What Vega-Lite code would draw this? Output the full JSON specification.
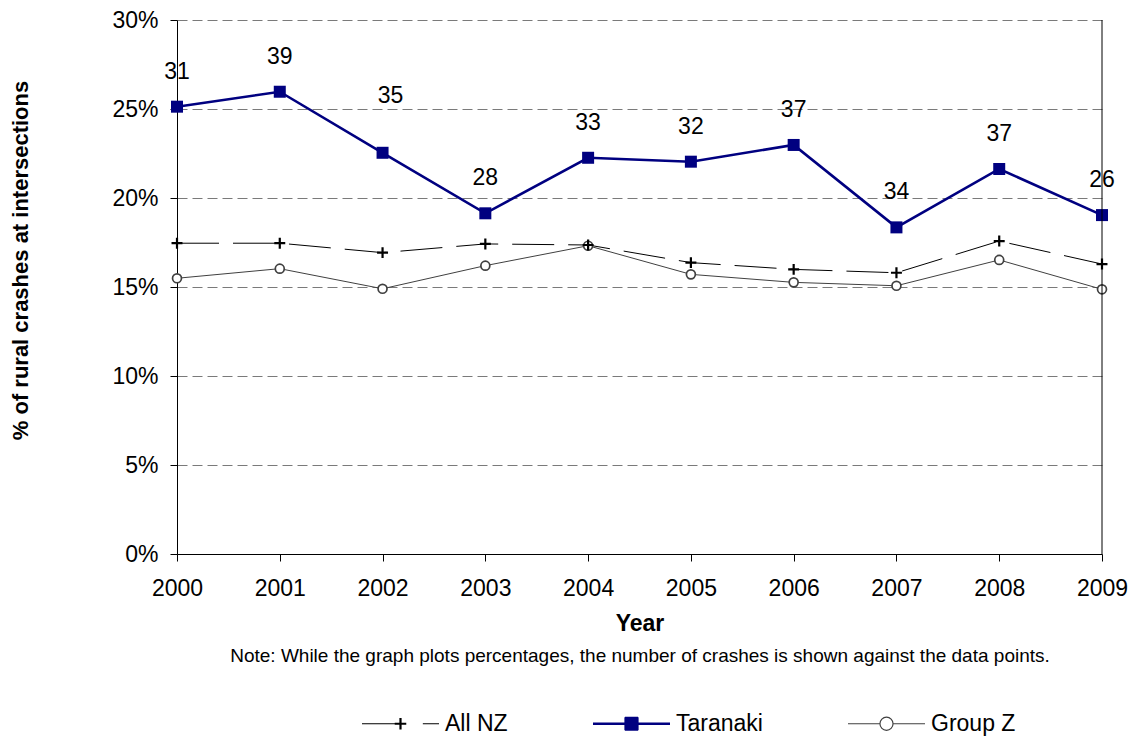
{
  "$schema": "https://vega.github.io/schema/vega-lite/v6.json",
  "width": 925,
  "height": 534,
  "autosize": {"type": "none"},
  "padding": {"left": 177, "top": 20, "right": 29, "bottom": 183},
  "background": "white",
  "config": {
    "font": "Liberation Sans",
    "view": {"stroke": null},
    "axis": {"labelFont": "Liberation Sans", "titleFont": "Liberation Sans"},
    "legend": {"labelFont": "Liberation Sans"}
  },
  "data": {
    "values": [
      {"year": 2000, "series": "All NZ", "pct": 17.46},
      {"year": 2001, "series": "All NZ", "pct": 17.46},
      {"year": 2002, "series": "All NZ", "pct": 16.93},
      {"year": 2003, "series": "All NZ", "pct": 17.42},
      {"year": 2004, "series": "All NZ", "pct": 17.36},
      {"year": 2005, "series": "All NZ", "pct": 16.37},
      {"year": 2006, "series": "All NZ", "pct": 15.99},
      {"year": 2007, "series": "All NZ", "pct": 15.80},
      {"year": 2008, "series": "All NZ", "pct": 17.58},
      {"year": 2009, "series": "All NZ", "pct": 16.29},
      {"year": 2000, "series": "Taranaki", "pct": 25.13, "count": 31},
      {"year": 2001, "series": "Taranaki", "pct": 25.97, "count": 39},
      {"year": 2002, "series": "Taranaki", "pct": 22.54, "count": 35},
      {"year": 2003, "series": "Taranaki", "pct": 19.14, "count": 28},
      {"year": 2004, "series": "Taranaki", "pct": 22.26, "count": 33},
      {"year": 2005, "series": "Taranaki", "pct": 22.04, "count": 32},
      {"year": 2006, "series": "Taranaki", "pct": 22.98, "count": 37},
      {"year": 2007, "series": "Taranaki", "pct": 18.35, "count": 34},
      {"year": 2008, "series": "Taranaki", "pct": 21.63, "count": 37},
      {"year": 2009, "series": "Taranaki", "pct": 19.04, "count": 26},
      {"year": 2000, "series": "Group Z", "pct": 15.49},
      {"year": 2001, "series": "Group Z", "pct": 16.03},
      {"year": 2002, "series": "Group Z", "pct": 14.90},
      {"year": 2003, "series": "Group Z", "pct": 16.20},
      {"year": 2004, "series": "Group Z", "pct": 17.32},
      {"year": 2005, "series": "Group Z", "pct": 15.71},
      {"year": 2006, "series": "Group Z", "pct": 15.26},
      {"year": 2007, "series": "Group Z", "pct": 15.07},
      {"year": 2008, "series": "Group Z", "pct": 16.52},
      {"year": 2009, "series": "Group Z", "pct": 14.87}
    ]
  },
  "resolve": {"axis": {"x": "independent"}},
  "layer": [
    {
      "transform": [{"filter": "datum.series === 'All NZ'"}],
      "mark": {"type": "line", "color": "#000000", "strokeWidth": 1, "strokeDash": [42, 14]},
      "encoding": {
        "x": {
          "field": "year", "type": "quantitative",
          "scale": {"domain": [2000, 2009], "nice": false, "zero": false},
          "axis": {
            "orient": "bottom", "title": "Year",
            "values": [2000, 2001, 2002, 2003, 2004, 2005, 2006, 2007, 2008, 2009],
            "format": "d", "grid": false,
            "domainColor": "black", "domainWidth": 1,
            "tickColor": "black", "tickSize": 7, "tickWidth": 1,
            "labelFontSize": 23, "labelColor": "black", "labelPadding": 16,
            "labelFlush": false, "labelOverlap": false,
            "titleFontSize": 23, "titleFontWeight": "bold", "titleColor": "black",
            "titleY": 58, "titleBaseline": "top"
          }
        },
        "y": {
          "field": "pct", "type": "quantitative",
          "scale": {"domain": [0, 30], "nice": false, "zero": true},
          "axis": {
            "title": "% of rural crashes at intersections",
            "values": [0, 5, 10, 15, 20, 25, 30],
            "labelExpr": "datum.value + '%'",
            "grid": true, "gridDash": [10, 5], "gridColor": "#7a7a7a", "gridWidth": 1,
            "domainColor": "black", "domainWidth": 1,
            "tickColor": "black", "tickSize": 7, "tickWidth": 1,
            "labelFontSize": 23, "labelColor": "black", "labelPadding": 12,
            "titleFontSize": 22, "titleFontWeight": "bold", "titleColor": "black",
            "titleAngle": -90, "titleX": -150, "titleY": 240,
            "titleBaseline": "alphabetic", "titleAlign": "center"
          }
        }
      }
    },
    {
      "transform": [{"filter": "datum.series === 'Group Z'"}],
      "mark": {"type": "line", "color": "#404040", "strokeWidth": 1},
      "encoding": {
        "x": {"field": "year", "type": "quantitative", "axis": null},
        "y": {"field": "pct", "type": "quantitative"}
      }
    },
    {
      "transform": [{"filter": "datum.series === 'Taranaki'"}],
      "mark": {"type": "line", "color": "#000080", "strokeWidth": 2.6},
      "encoding": {
        "x": {"field": "year", "type": "quantitative", "axis": null},
        "y": {"field": "pct", "type": "quantitative"}
      }
    },
    {
      "transform": [{"filter": "datum.series === 'Group Z'"}],
      "mark": {"type": "point", "shape": "circle", "size": 80, "filled": false, "fill": "white", "stroke": "#404040", "strokeWidth": 1.7, "opacity": 1},
      "encoding": {
        "x": {"field": "year", "type": "quantitative", "axis": null},
        "y": {"field": "pct", "type": "quantitative"}
      }
    },
    {
      "transform": [{"filter": "datum.series === 'All NZ'"}],
      "mark": {"type": "point", "shape": "M-1,0H1M0,-1V1", "size": 120, "filled": false, "stroke": "#000000", "strokeWidth": 2.2, "opacity": 1},
      "encoding": {
        "x": {"field": "year", "type": "quantitative", "axis": null},
        "y": {"field": "pct", "type": "quantitative"}
      }
    },
    {
      "transform": [{"filter": "datum.series === 'Taranaki'"}],
      "mark": {"type": "point", "shape": "square", "size": 144, "filled": true, "fill": "#000080", "opacity": 1},
      "encoding": {
        "x": {"field": "year", "type": "quantitative", "axis": null},
        "y": {"field": "pct", "type": "quantitative"}
      }
    },
    {
      "transform": [{"filter": "datum.series === 'Taranaki' && datum.year !== 2002"}],
      "mark": {"type": "text", "fontSize": 23, "color": "black", "baseline": "middle", "align": "center", "dy": -35},
      "encoding": {
        "x": {"field": "year", "type": "quantitative", "axis": null},
        "y": {"field": "pct", "type": "quantitative"},
        "text": {"field": "count", "type": "quantitative"}
      }
    },
    {
      "transform": [{"filter": "datum.series === 'Taranaki' && datum.year === 2002"}],
      "mark": {"type": "text", "fontSize": 23, "color": "black", "baseline": "middle", "align": "center", "dy": -57, "dx": 8},
      "encoding": {
        "x": {"field": "year", "type": "quantitative", "axis": null},
        "y": {"field": "pct", "type": "quantitative"},
        "text": {"field": "count", "type": "quantitative"}
      }
    },
    {
      "transform": [{"filter": "datum.series === 'Taranaki' && datum.year === 2009"}],
      "mark": {"type": "rule", "color": "black", "strokeWidth": 1},
      "encoding": {
        "x": {
          "field": "year", "type": "quantitative",
          "axis": {
            "orient": "bottom",
            "title": "Note: While the graph plots percentages, the number of crashes is shown against the  data points.",
            "labels": false, "ticks": false, "domain": false, "grid": false,
            "titleFontSize": 19, "titleFontWeight": "normal", "titleColor": "black",
            "titleY": 92, "titleBaseline": "top"
          }
        }
      }
    },
    {
      "transform": [{"filter": "datum.year < 0"}],
      "mark": {"type": "point", "filled": false, "opacity": 1, "strokeWidth": 1.2},
      "encoding": {
        "color": {
          "field": "series", "type": "nominal",
          "scale": {"domain": ["All NZ", "Taranaki", "Group Z"], "range": ["#000000", "#000080", "#404040"]},
          "legend": {
            "title": null, "orient": "none", "legendX": 184, "legendY": 664,
            "direction": "horizontal", "columns": 3,
            "symbolSize": 5929, "symbolStrokeWidth": 1.2, "symbolOpacity": 1,
            "labelFontSize": 23, "labelColor": "black", "labelOffset": 5,
            "columnPadding": 82, "padding": 0, "labelLimit": 300
          }
        },
        "shape": {
          "field": "series", "type": "nominal",
          "scale": {
            "domain": ["All NZ", "Taranaki", "Group Z"],
            "range": [
              "M-1,0H0M-0.15,-0.013H0.15M-0.15,0.013H0.15M-0.013,-0.15V0.15M0.013,-0.15V0.15M0.58,0H1",
              "M-1,-0.016H1M-1,0.016H1M-0.169,-0.169V0.169M0.169,-0.169V0.169M-0.169,-0.169H0.169M-0.169,-0.143H0.169M-0.169,-0.117H0.169M-0.169,-0.091H0.169M-0.169,-0.065H0.169M-0.169,-0.039H0.169M-0.169,-0.013H0.169M-0.169,0.013H0.169M-0.169,0.039H0.169M-0.169,0.065H0.169M-0.169,0.091H0.169M-0.169,0.117H0.169M-0.169,0.143H0.169M-0.169,0.169H0.169",
              "M-1,0H-0.17M0.17,0H1M0.17,0A0.17,0.17,0,1,1,-0.17,0A0.17,0.17,0,1,1,0.17,0"
            ]
          },
          "legend": {
            "title": null, "orient": "none", "legendX": 184, "legendY": 664,
            "direction": "horizontal", "columns": 3,
            "symbolSize": 5929, "symbolStrokeWidth": 1.2, "symbolOpacity": 1,
            "labelFontSize": 23, "labelColor": "black", "labelOffset": 5,
            "columnPadding": 82, "padding": 0, "labelLimit": 300
          }
        }
      }
    }
  ]
}
